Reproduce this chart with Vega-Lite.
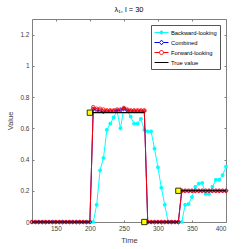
{
  "$schema": "https://vega.github.io/schema/vega-lite/v6.json",
  "width": 194,
  "height": 203,
  "autosize": {"type": "none"},
  "padding": {"left": 32, "top": 19, "right": 23, "bottom": 27},
  "config": {
    "font": "Liberation Sans",
    "view": {"stroke": "#808080", "strokeWidth": 1},
    "axis": {
      "grid": false,
      "domain": false,
      "tickColor": "#808080",
      "tickSize": -2,
      "labelFontSize": 6.5,
      "labelColor": "#404040",
      "labelPadding": 5,
      "titleFontSize": 7.5,
      "titleFontWeight": "normal",
      "titleColor": "#404040"
    },
    "legend": {
      "symbolOpacity": 1
    }
  },
  "title": {"text": "λ₁, l = 30", "fontSize": 7.5, "fontWeight": "normal", "offset": 5, "color": "#000000"},
  "datasets": {
    "bw": [
      {"t": 115, "v": 0}, {"t": 120, "v": 0}, {"t": 125, "v": 0}, {"t": 130, "v": 0}, {"t": 135, "v": 0},
      {"t": 140, "v": 0}, {"t": 145, "v": 0}, {"t": 150, "v": 0}, {"t": 155, "v": 0}, {"t": 160, "v": 0},
      {"t": 165, "v": 0}, {"t": 170, "v": 0}, {"t": 175, "v": 0}, {"t": 180, "v": 0}, {"t": 185, "v": 0},
      {"t": 190, "v": 0}, {"t": 195, "v": 0}, {"t": 200, "v": 0}, {"t": 205, "v": 0},
      {"t": 210, "v": 0.11}, {"t": 215, "v": 0.33}, {"t": 220, "v": 0.41}, {"t": 225, "v": 0.59},
      {"t": 230, "v": 0.63}, {"t": 235, "v": 0.67}, {"t": 240, "v": 0.71}, {"t": 245, "v": 0.6},
      {"t": 250, "v": 0.73}, {"t": 255, "v": 0.71}, {"t": 260, "v": 0.675}, {"t": 265, "v": 0.63},
      {"t": 270, "v": 0.63}, {"t": 275, "v": 0.66}, {"t": 280, "v": 0.59}, {"t": 285, "v": 0.58},
      {"t": 290, "v": 0.58}, {"t": 295, "v": 0.47}, {"t": 300, "v": 0.35}, {"t": 305, "v": 0.22},
      {"t": 310, "v": 0.11}, {"t": 315, "v": 0}, {"t": 320, "v": 0}, {"t": 325, "v": 0},
      {"t": 330, "v": 0}, {"t": 335, "v": 0}, {"t": 340, "v": 0.11}, {"t": 345, "v": 0.115},
      {"t": 350, "v": 0.16}, {"t": 355, "v": 0.225}, {"t": 360, "v": 0.245}, {"t": 365, "v": 0.25},
      {"t": 370, "v": 0.18}, {"t": 375, "v": 0.18}, {"t": 380, "v": 0.225}, {"t": 385, "v": 0.27},
      {"t": 390, "v": 0.27}, {"t": 395, "v": 0.3}, {"t": 400, "v": 0.355}
    ],
    "cb": [
      {"t": 115, "v": 0}, {"t": 120, "v": 0}, {"t": 125, "v": 0}, {"t": 130, "v": 0}, {"t": 135, "v": 0},
      {"t": 140, "v": 0}, {"t": 145, "v": 0}, {"t": 150, "v": 0}, {"t": 155, "v": 0}, {"t": 160, "v": 0},
      {"t": 165, "v": 0}, {"t": 170, "v": 0}, {"t": 175, "v": 0}, {"t": 180, "v": 0}, {"t": 185, "v": 0},
      {"t": 190, "v": 0}, {"t": 195, "v": 0}, {"t": 200, "v": 0},
      {"t": 205, "v": 0.725}, {"t": 210, "v": 0.715}, {"t": 215, "v": 0.71}, {"t": 220, "v": 0.705},
      {"t": 225, "v": 0.71}, {"t": 230, "v": 0.71}, {"t": 235, "v": 0.71}, {"t": 240, "v": 0.715},
      {"t": 245, "v": 0.715}, {"t": 250, "v": 0.725}, {"t": 255, "v": 0.715}, {"t": 260, "v": 0.71},
      {"t": 265, "v": 0.71}, {"t": 270, "v": 0.71}, {"t": 275, "v": 0.71}, {"t": 280, "v": 0.71},
      {"t": 285, "v": 0}, {"t": 290, "v": 0}, {"t": 295, "v": 0}, {"t": 300, "v": 0}, {"t": 305, "v": 0},
      {"t": 310, "v": 0}, {"t": 315, "v": 0}, {"t": 320, "v": 0}, {"t": 325, "v": 0}, {"t": 330, "v": 0},
      {"t": 335, "v": 0.2}, {"t": 340, "v": 0.2}, {"t": 345, "v": 0.2}, {"t": 350, "v": 0.2},
      {"t": 355, "v": 0.2}, {"t": 360, "v": 0.2}, {"t": 365, "v": 0.2}, {"t": 370, "v": 0.2},
      {"t": 375, "v": 0.2}, {"t": 380, "v": 0.2}, {"t": 385, "v": 0.2}, {"t": 390, "v": 0.2},
      {"t": 395, "v": 0.2}, {"t": 400, "v": 0.2}
    ],
    "fw": [
      {"t": 115, "v": 0}, {"t": 120, "v": 0}, {"t": 125, "v": 0}, {"t": 130, "v": 0}, {"t": 135, "v": 0},
      {"t": 140, "v": 0}, {"t": 145, "v": 0}, {"t": 150, "v": 0}, {"t": 155, "v": 0}, {"t": 160, "v": 0},
      {"t": 165, "v": 0}, {"t": 170, "v": 0}, {"t": 175, "v": 0}, {"t": 180, "v": 0}, {"t": 185, "v": 0},
      {"t": 190, "v": 0}, {"t": 195, "v": 0}, {"t": 200, "v": 0},
      {"t": 205, "v": 0.735}, {"t": 210, "v": 0.725}, {"t": 215, "v": 0.725}, {"t": 220, "v": 0.72},
      {"t": 225, "v": 0.715}, {"t": 230, "v": 0.715}, {"t": 235, "v": 0.715}, {"t": 240, "v": 0.72},
      {"t": 245, "v": 0.72}, {"t": 250, "v": 0.73}, {"t": 255, "v": 0.72}, {"t": 260, "v": 0.715},
      {"t": 265, "v": 0.715}, {"t": 270, "v": 0.715}, {"t": 275, "v": 0.715}, {"t": 280, "v": 0.715},
      {"t": 285, "v": 0}, {"t": 290, "v": 0}, {"t": 295, "v": 0}, {"t": 300, "v": 0}, {"t": 305, "v": 0},
      {"t": 310, "v": 0}, {"t": 315, "v": 0}, {"t": 320, "v": 0}, {"t": 325, "v": 0}, {"t": 330, "v": 0},
      {"t": 335, "v": 0.2}, {"t": 340, "v": 0.2}, {"t": 345, "v": 0.2}, {"t": 350, "v": 0.2},
      {"t": 355, "v": 0.2}, {"t": 360, "v": 0.2}, {"t": 365, "v": 0.2}, {"t": 370, "v": 0.2},
      {"t": 375, "v": 0.2}, {"t": 380, "v": 0.2}, {"t": 385, "v": 0.2}, {"t": 390, "v": 0.2},
      {"t": 395, "v": 0.2}, {"t": 400, "v": 0.2}
    ],
    "truth": [
      {"t": 115, "v": 0, "seg": 1}, {"t": 200, "v": 0, "seg": 1},
      {"t": 200, "v": 0.7, "seg": 2}, {"t": 280, "v": 0.7, "seg": 2},
      {"t": 280, "v": 0, "seg": 3}, {"t": 330, "v": 0, "seg": 3},
      {"t": 330, "v": 0.2, "seg": 4}, {"t": 400, "v": 0.2, "seg": 4}
    ],
    "cp": [
      {"t": 200, "v": 0.7}, {"t": 280, "v": 0}, {"t": 330, "v": 0.2}
    ],
    "leg": [
      {"s": "Backward-looking"}, {"s": "Combined"}, {"s": "Forward-looking"}, {"s": "True value"}
    ]
  },
  "encoding": {
    "x": {"field": "t", "type": "quantitative", "scale": {"domain": [115, 400], "nice": false, "zero": false}, "axis": null},
    "y": {"field": "v", "type": "quantitative", "scale": {"domain": [0, 1.3], "nice": false}, "axis": null}
  },
  "resolve": {"axis": {"x": "independent", "y": "independent"}},
  "layer": [
    {
      "data": {"name": "bw"},
      "mark": {"type": "line", "color": "#00FFFF", "strokeWidth": 1},
      "encoding": {
        "x": {"field": "t", "type": "quantitative", "title": "Time",
              "axis": {"orient": "bottom", "values": [150, 200, 250, 300, 350, 400], "titlePadding": 5}},
        "y": {"field": "v", "type": "quantitative", "title": "Value",
              "axis": {"orient": "left", "values": [0, 0.2, 0.4, 0.6, 0.8, 1, 1.2], "format": ".1~f", "titlePadding": 5}}
      }
    },
    {
      "data": {"name": "bw"},
      "mark": {"type": "point", "shape": "M-1,0L1,0M0,-1L0,1M-0.7,-0.7L0.7,0.7M-0.7,0.7L0.7,-0.7", "filled": false, "color": "#00FFFF", "size": 14, "strokeWidth": 1.3, "opacity": 1}
    },
    {
      "data": {"name": "cb"},
      "mark": {"type": "line", "color": "#0000FF", "strokeWidth": 1}
    },
    {
      "data": {"name": "cb"},
      "mark": {"type": "point", "shape": "diamond", "filled": false, "color": "#0000FF", "size": 14, "strokeWidth": 0.8, "opacity": 1}
    },
    {
      "data": {"name": "fw"},
      "mark": {"type": "line", "color": "#FF0000", "strokeWidth": 1}
    },
    {
      "data": {"name": "fw"},
      "mark": {"type": "point", "shape": "circle", "filled": false, "color": "#FF0000", "size": 13, "strokeWidth": 0.8, "opacity": 1}
    },
    {
      "data": {"name": "truth"},
      "mark": {"type": "line", "color": "#000000", "strokeWidth": 1.2},
      "encoding": {"detail": {"field": "seg", "type": "nominal"}}
    },
    {
      "data": {"name": "cp"},
      "mark": {"type": "point", "shape": "square", "filled": true, "fill": "#FFFF00", "stroke": "#000000", "strokeWidth": 0.8, "size": 28, "opacity": 1}
    },
    {
      "data": {"name": "cp"},
      "mark": {"type": "point", "opacity": 0},
      "encoding": {
        "x": {"field": "t", "type": "quantitative", "axis": {"orient": "top", "labels": false, "title": null, "values": [150, 200, 250, 300, 350, 400]}},
        "y": {"field": "v", "type": "quantitative", "axis": {"orient": "right", "labels": false, "title": null, "values": [0, 0.2, 0.4, 0.6, 0.8, 1, 1.2]}}
      }
    },
    {
      "data": {"name": "leg"},
      "mark": {"type": "point", "filled": false, "opacity": 0, "strokeWidth": 1},
      "encoding": {
        "x": {"datum": 115, "type": "quantitative", "axis": null},
        "y": {"datum": 0, "type": "quantitative", "axis": null},
        "color": {"field": "s", "type": "nominal", "title": null,
          "scale": {"domain": ["Backward-looking", "Combined", "Forward-looking", "True value"], "range": ["#00FFFF", "#0000FF", "#FF0000", "#000000"]},
          "legend": {"orient": "top-right", "offset": 6, "fillColor": "#FFFFFF", "strokeColor": "#555555", "padding": 3,
                     "labelFontSize": 5.8, "labelColor": "#000000", "symbolSize": 64, "symbolStrokeWidth": 1, "labelOffset": 8, "rowPadding": 1}},
        "shape": {"field": "s", "type": "nominal", "title": null,
          "scale": {"domain": ["Backward-looking", "Combined", "Forward-looking", "True value"],
                    "range": ["M-1,0H2.5M0.75,-0.55V0.55M0.35,-0.4L1.15,0.4M0.35,0.4L1.15,-0.4",
                              "M-1,0H0.25M1.25,0H2.5M0.25,0L0.75,-0.6L1.25,0L0.75,0.6Z",
                              "M-1,0H0.25M1.25,0H2.5M1.25,0A0.5,0.5 0 1 1 0.25,0A0.5,0.5 0 1 1 1.25,0Z",
                              "M-1,0H2.5"]}}
      }
    }
  ]
}
